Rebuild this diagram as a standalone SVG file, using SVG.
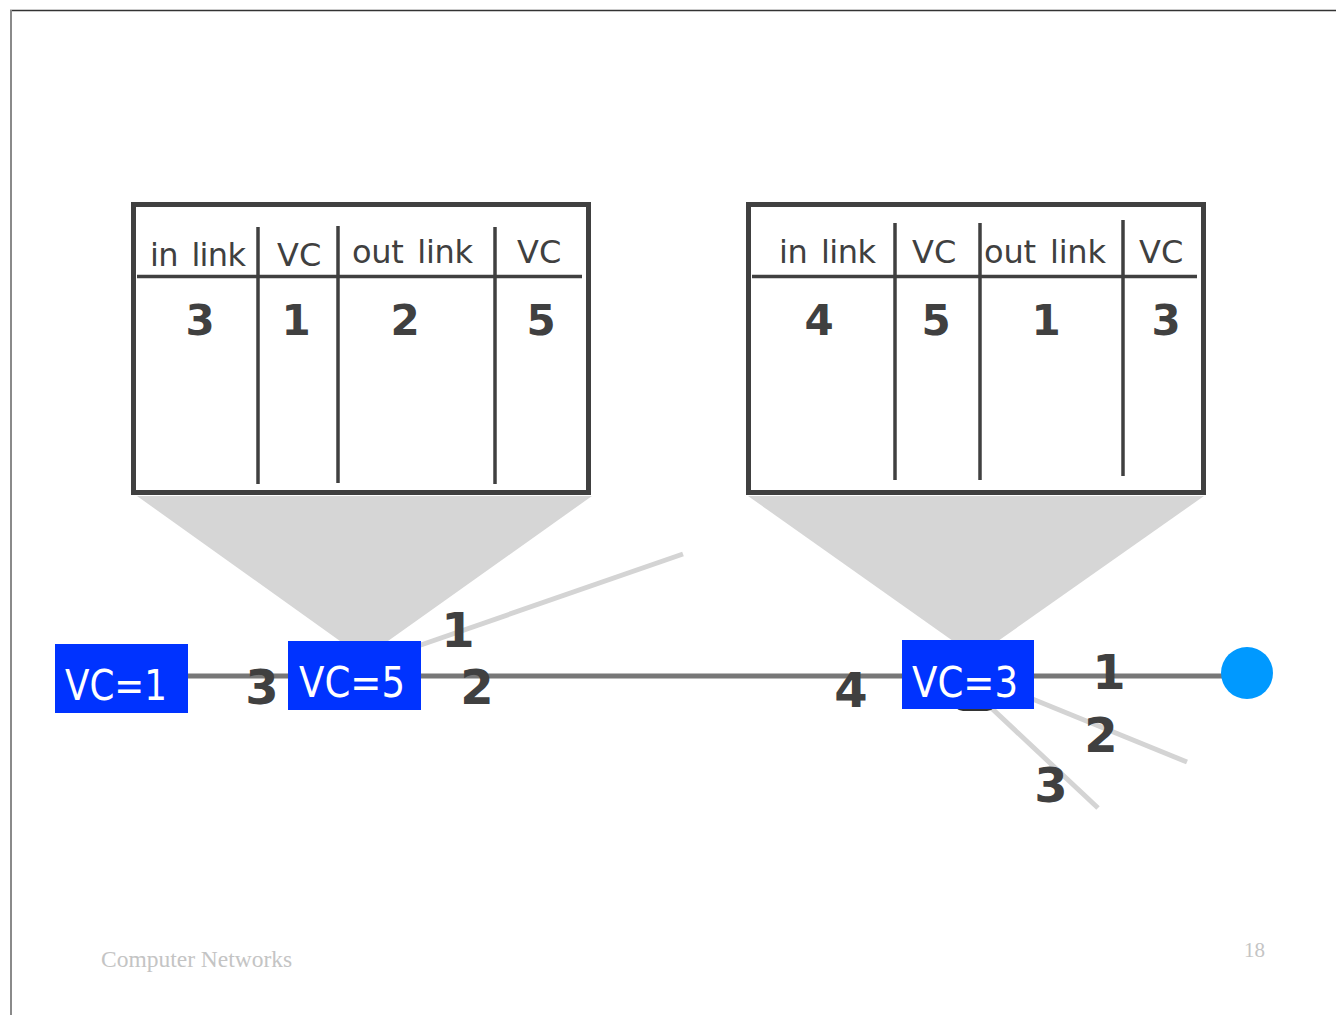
<svg xmlns="http://www.w3.org/2000/svg" width="1336" height="1015" viewBox="0 0 1336 1015">
<style>
.frame{fill:none;stroke:#404040;stroke-width:5}
.grid{stroke:#404040;stroke-width:3.5}
.hd{font-family:"DejaVu Sans",sans-serif;font-size:32px;fill:#404040;word-spacing:4px}
.num{font-family:"DejaVu Sans",sans-serif;font-size:42px;fill:#404040;text-anchor:middle;font-weight:bold}
.lbl{font-family:"DejaVu Sans",sans-serif;font-size:48px;fill:#404040;text-anchor:middle;font-weight:bold}
.box{fill:#0033ff}
.bt{font-family:"DejaVu Sans",sans-serif;font-size:42px;fill:#ffffff}
.fan{fill:#d6d6d6}
.branch{stroke:#d4d4d4;stroke-width:5;fill:none}
.foot{font-family:"Liberation Serif",serif;fill:#c4c4c4}
</style>
<rect width="1336" height="1015" fill="#ffffff"/>
<line x1="10" y1="10.5" x2="1336" y2="10.5" stroke="#333333" stroke-width="1.5"/>
<line x1="11" y1="10" x2="11" y2="1015" stroke="#8a8a8a" stroke-width="2"/>

<g id="zoom-fans">
<polygon class="fan" points="137,496 592,496 388,641 340,641"/>
<polygon class="fan" points="748,496 1204,496 998,641 953,641"/>
</g>

<g id="table1">
<rect class="frame" x="133.5" y="204.5" width="455" height="288" fill="#ffffff"/>
<line class="grid" x1="137" y1="276.5" x2="582" y2="276.5"/>
<line class="grid" x1="258" y1="227" x2="258" y2="484"/>
<line class="grid" x1="338" y1="226" x2="338" y2="483"/>
<line class="grid" x1="495" y1="227" x2="495" y2="484"/>
<text class="hd" x="150" y="266" textLength="96">in link</text>
<text class="hd" x="277" y="266">VC</text>
<text class="hd" x="352" y="263" textLength="121">out link</text>
<text class="hd" x="517" y="263">VC</text>
<text class="num" x="200" y="335">3</text>
<text class="num" x="296" y="335">1</text>
<text class="num" x="405" y="335">2</text>
<text class="num" x="541" y="335">5</text>
</g>

<g id="table2">
<rect class="frame" x="748.5" y="204.5" width="455" height="288" fill="#ffffff"/>
<line class="grid" x1="752" y1="276.5" x2="1197" y2="276.5"/>
<line class="grid" x1="895" y1="223" x2="895" y2="480"/>
<line class="grid" x1="980" y1="223" x2="980" y2="480"/>
<line class="grid" x1="1123" y1="220" x2="1123" y2="476"/>
<text class="hd" x="779" y="263" textLength="97">in link</text>
<text class="hd" x="912" y="263">VC</text>
<text class="hd" x="984" y="263" textLength="122">out link</text>
<text class="hd" x="1139" y="263">VC</text>
<text class="num" x="819" y="335">4</text>
<text class="num" x="936" y="335">5</text>
<text class="num" x="1046" y="335">1</text>
<text class="num" x="1166" y="335">3</text>
</g>

<g id="connectors">
<line x1="188" y1="676" x2="1230" y2="676" stroke="#777777" stroke-width="5"/>
<line class="branch" x1="415" y1="647" x2="683" y2="554"/>
<line class="branch" x1="1030" y1="698" x2="1187" y2="762"/>
<line class="branch" x1="985" y1="702" x2="1098" y2="808"/>
<rect x="953" y="688" width="44" height="23" rx="10" fill="#333333"/>
</g>

<g id="vc1">
<rect class="box" x="55" y="644" width="133" height="69"/>
<text class="bt" x="65" y="700" textLength="102" lengthAdjust="spacingAndGlyphs">VC=1</text>
</g>
<g id="vc5">
<rect class="box" x="288" y="641" width="133" height="69"/>
<text class="bt" x="299" y="697" textLength="106" lengthAdjust="spacingAndGlyphs">VC=5</text>
</g>
<g id="vc3">
<rect class="box" x="902" y="640" width="132" height="69"/>
<text class="bt" x="912" y="697" textLength="106" lengthAdjust="spacingAndGlyphs">VC=3</text>
</g>
<g id="host">
<circle cx="1247" cy="673" r="26" fill="#0099ff"/>
</g>

<g id="labels">
<text class="lbl" x="262" y="704">3</text>
<text class="lbl" x="458" y="647">1</text>
<text class="lbl" x="477" y="704">2</text>
<text class="lbl" x="851" y="707">4</text>
<text class="lbl" x="1109" y="689">1</text>
<text class="lbl" x="1101" y="752">2</text>
<text class="lbl" x="1051" y="802">3</text>
</g>

<text class="foot" x="101" y="967" font-size="23.5">Computer Networks</text>
<text class="foot" x="1244" y="957" font-size="21">18</text>
</svg>
